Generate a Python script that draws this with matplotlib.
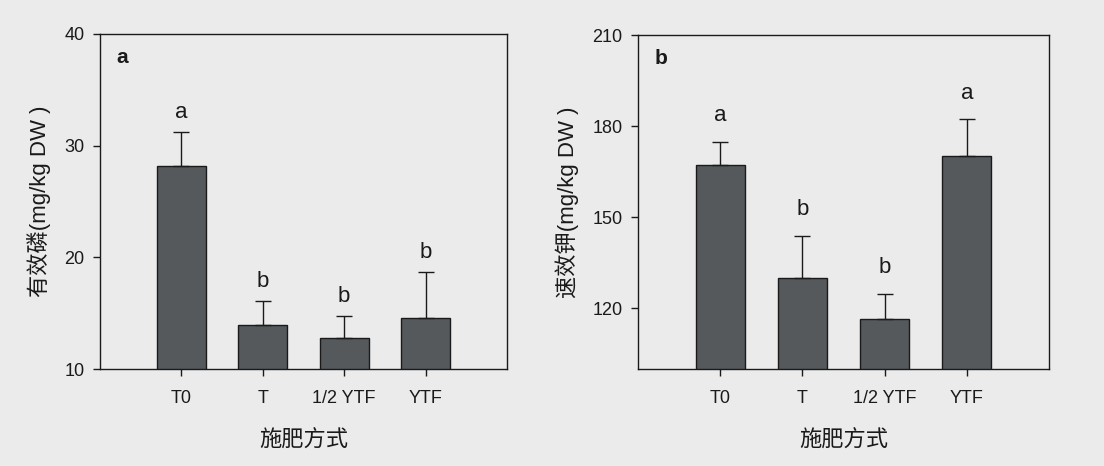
import matplotlib
matplotlib.use("Agg")
import matplotlib.pyplot as plt
import numpy as np

plt.rcParams['font.family'] = ['Liberation Sans', 'Noto Sans CJK SC', 'DejaVu Sans']

treatments = ['T0', 'T', '1/2 YTF', 'YTF']

# available phosphorus
p_mean = [28.2, 13.9, 12.75, 14.55]
p_err = [3.05, 2.2, 2.0, 4.15]
p_sig = ['a', 'b', 'b', 'b']

# available potassium
k_mean = [167.2, 129.9, 116.4, 170.1]
k_err = [7.5, 13.9, 8.2, 12.1]
k_sig = ['a', 'b', 'b', 'a']

bg = '#ebebeb'
bar_color = '#55595b'
ink = '#1a1a1a'

fig = plt.figure(figsize=(11.04, 4.66), dpi=100, facecolor=bg)
ax1 = fig.add_axes([100 / 1104, 97 / 466, 407 / 1104, 335 / 466])
ax2 = fig.add_axes([638 / 1104, 97 / 466, 411 / 1104, 334 / 466])

panels = [
    (ax1, p_mean, p_err, p_sig, (10, 40), [10, 20, 30, 40], '有效磷(mg/kg DW )', 'a', 14),
    (ax2, k_mean, k_err, k_sig, (100, 210), [120, 150, 180, 210], '速效钾(mg/kg DW )', 'b', 19),
]

x = np.arange(len(treatments))
for ax, mean, err, sig, ylim, yticks, ylabel, tag, off in panels:
    ax.set_facecolor(bg)
    ax.bar(x, mean, width=0.6, color=bar_color, edgecolor=ink, linewidth=1.0, zorder=2)
    ax.errorbar(x, mean, yerr=[np.zeros(len(err)), err], fmt='none', ecolor=ink,
                elinewidth=1.0, capsize=6, capthick=1.0, zorder=3)
    for xi, m, e, s in zip(x, mean, err, sig):
        ax.annotate(s, (xi, m + e), xytext=(0, off), textcoords='offset points',
                    ha='center', va='center', fontsize=16, color=ink)
    ax.set_xlim(-1, 4)
    ax.set_ylim(*ylim)
    ax.set_yticks(yticks)
    ax.set_xticks(x)
    ax.set_xticklabels(treatments)
    ax.tick_params(axis='both', labelsize=13, direction='out', length=5, width=1,
                   colors=ink, pad=6)
    ax.tick_params(axis='x', pad=10)
    for sp in ax.spines.values():
        sp.set_color(ink)
        sp.set_linewidth(1.0)
    ax.set_ylabel(ylabel, fontsize=16, color=ink, labelpad=10)
    ax.set_xlabel('施肥方式', fontsize=16, color=ink, labelpad=17)
    ax.text(0.055, 0.93, tag, transform=ax.transAxes, fontsize=15, fontweight='bold',
            ha='center', va='center', color=ink)

fig.savefig('out.png', dpi=100, facecolor=bg)
